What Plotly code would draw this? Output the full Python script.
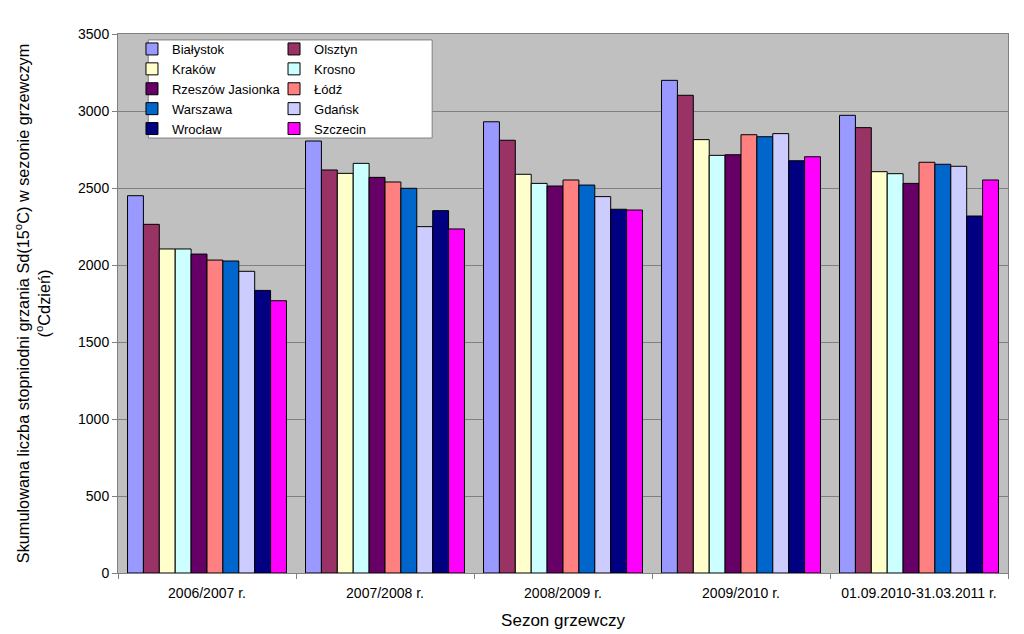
import plotly.graph_objects as go

# ---- data ----
seasons = ["2006/2007 r.", "2007/2008 r.", "2008/2009 r.", "2009/2010 r.", "01.09.2010-31.03.2011 r."]

bialystok = [2450, 2805, 2930, 3199, 2972]
olsztyn = [2264, 2617, 2810, 3102, 2892]
krakow = [2104, 2595, 2589, 2814, 2606]
krosno = [2104, 2660, 2530, 2712, 2593]
rzeszow = [2071, 2569, 2513, 2716, 2530]
lodz = [2032, 2539, 2552, 2846, 2667]
warszawa = [2026, 2498, 2519, 2833, 2654]
gdansk = [1959, 2249, 2444, 2853, 2641]
wroclaw = [1835, 2353, 2362, 2677, 2318]
szczecin = [1768, 2234, 2357, 2703, 2552]

# (name, values, colour, legend column)
stations = [
    ("Białystok", bialystok, "#9999FF", "legend"),
    ("Olsztyn", olsztyn, "#993366", "legend2"),
    ("Kraków", krakow, "#FFFFCC", "legend"),
    ("Krosno", krosno, "#CCFFFF", "legend2"),
    ("Rzeszów Jasionka", rzeszow, "#660066", "legend"),
    ("Łódź", lodz, "#FF8080", "legend2"),
    ("Warszawa", warszawa, "#0066CC", "legend"),
    ("Gdańsk", gdansk, "#CCCCFF", "legend2"),
    ("Wrocław", wroclaw, "#000080", "legend"),
    ("Szczecin", szczecin, "#FF00FF", "legend2"),
]

FONT = "Arial, Liberation Sans, sans-serif"

fig = go.Figure()
for name, vals, color, leg in stations:
    fig.add_trace(go.Bar(
        x=seasons, y=vals, name=name, legend=leg,
        marker=dict(color=color, line=dict(color="black", width=1)),
    ))

# white legend box spanning both legend columns
fig.add_shape(
    type="rect", xref="paper", yref="paper",
    x0=0.034, x1=0.353, y0=0.807, y1=0.989,
    fillcolor="white", line=dict(color="#808080", width=1),
    layer="above",
)

legend_common = dict(
    bgcolor="rgba(0,0,0,0)", borderwidth=0,
    font=dict(family=FONT, size=13, color="black"),
    xanchor="left", yanchor="top", y=1.0,
    itemwidth=30, traceorder="normal",
)

# page body has an 8px margin, so the figure is 8px smaller than the window
fig.update_layout(
    width=1016, height=626,
    barmode="group", bargap=0.107, bargroupgap=0,
    plot_bgcolor="#C0C0C0", paper_bgcolor="white",
    font=dict(family=FONT, size=14, color="black"),
    margin=dict(l=110, r=16, t=26, b=61, autoexpand=False),
    legend=dict(x=0.0157, **legend_common),
    legend2=dict(x=0.1753, **legend_common),
    xaxis=dict(
        type="category", tickson="boundaries", ticks="outside", ticklen=5,
        tickcolor="#808080", showline=True, linecolor="#808080", mirror=True,
        showgrid=False, tickfont=dict(size=14), ticklabelstandoff=7,
        automargin=False,
        title=dict(text="Sezon grzewczy", font=dict(size=17), standoff=14),
    ),
    yaxis=dict(
        range=[0, 3500], dtick=500, ticks="outside", ticklen=5, tickcolor="#808080",
        showline=True, linecolor="#808080", mirror=True,
        gridcolor="#808080", gridwidth=1, zeroline=False, tickfont=dict(size=14),
        automargin=False,
        title=dict(
            text="Skumulowana liczba stopniodni grzania Sd(15<sup>o</sup>C) w sezonie grzewczym<br>(<sup>o</sup>Cdzień)",
            font=dict(size=16.3), standoff=23,
        ),
    ),
)

fig.write_html("out.html")
